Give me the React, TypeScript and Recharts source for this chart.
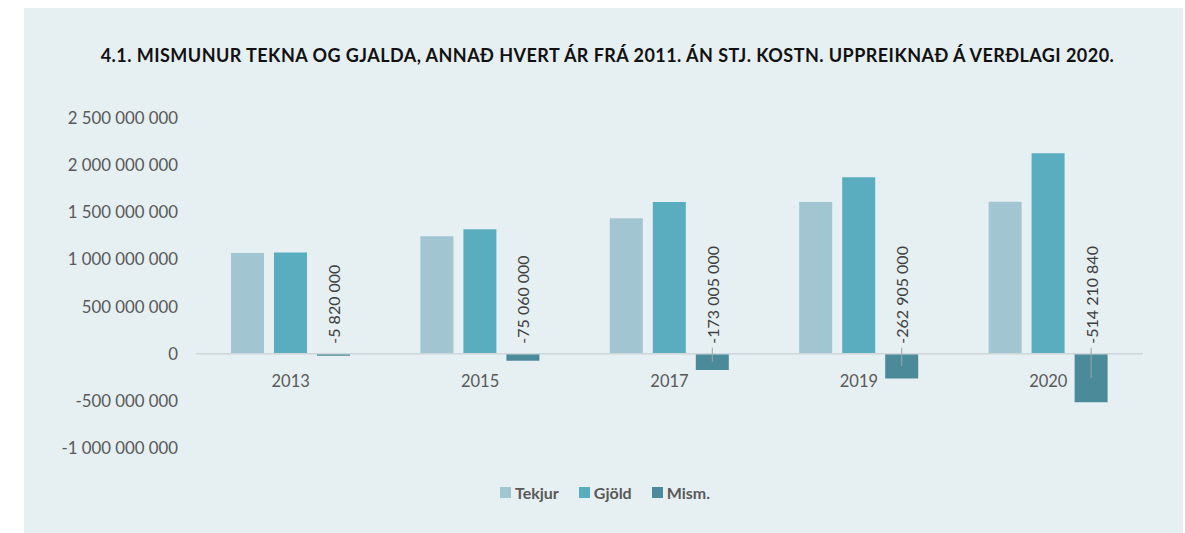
import React from 'react';
import {
  BarChart,
  Bar,
  XAxis,
  YAxis,
  Legend,
  ReferenceLine,
  LabelList,
} from 'recharts';

const YEARS = ['2013', '2015', '2017', '2019', '2020'];
const TEKJUR = [1068000000, 1246000000, 1436000000, 1610000000, 1612000000];
const GJOLD = [1073820000, 1321060000, 1609005000, 1872905000, 2126210840];
const MISM = [-5820000, -75060000, -173005000, -262905000, -514210840];
const Y_TICKS = [-1000000000, -500000000, 0, 500000000, 1000000000, 1500000000, 2000000000, 2500000000];

const SERIES = ['Tekjur', 'Gjöld', 'Mism.'];
const COLORS = ['#A2C6D1', '#5AACBF', '#4B8A98'];

const TITLE = '4.1. MISMUNUR TEKNA OG GJALDA, ANNAÐ HVERT ÁR FRÁ 2011. ÁN STJ. KOSTN. UPPREIKNAÐ Á VERÐLAGI 2020.';

const data = YEARS.map((year, i) => ({
  year,
  Tekjur: TEKJUR[i],
  'Gjöld': GJOLD[i],
  'Mism.': MISM[i],
}));

// space as thousands separator, like the source
const fmt = (v: number) => {
  const s = Math.abs(Math.round(v)).toString().replace(/\B(?=(\d{3})+(?!\d))/g, ' ');
  return (v < 0 ? '-' : '') + s;
};

const FONT = 'Lato, "Open Sans", sans-serif';

const YearTick = (props: any) => {
  const { x, y, payload } = props;
  return (
    <text x={x} y={y - 81} dy="0.71em" textAnchor="middle" fill="#595959" fontSize={16.5} fontFamily={FONT}>
      {payload.value}
    </text>
  );
};

const MismLabel = (props: any) => {
  const { x, y, width, height, value } = props;
  const top = Math.min(y, y + height);
  const bottom = Math.max(y, y + height);
  const cx = x + width / 2;
  const ly = top - 10;
  return (
    <g>
      {bottom - top > 8 && (
        <line x1={cx} y1={top - 6} x2={cx} y2={(top + bottom) / 2} stroke="#9aa5a8" strokeWidth={1} />
      )}
      <text
        x={cx}
        y={ly}
        transform={`rotate(-90, ${cx}, ${ly})`}
        textAnchor="start"
        dominantBaseline="central"
        fill="#404040"
        fontSize={16}
        fontFamily={FONT}
      >
        {fmt(value)}
      </text>
    </g>
  );
};

// legend in series order (Tekjur, Gjöld, Mism.)
const LegendContent = () => (
  <div style={{ display: 'flex', justifyContent: 'center', alignItems: 'center', fontFamily: FONT }}>
    {SERIES.map((name, i) => (
      <div
        key={name}
        style={{ display: 'flex', alignItems: 'center', marginRight: i < SERIES.length - 1 ? 20 : 0 }}
      >
        <div style={{ width: 11, height: 11, background: COLORS[i], marginRight: 4 }} />
        <span style={{ color: '#595959', fontWeight: 700, fontSize: 16 }}>{name}</span>
      </div>
    ))}
  </div>
);

export default function App() {
  return (
    <div style={{ position: 'absolute', left: 0, top: 0, width: 1185, height: 533, background: '#ffffff' }}>
      <div style={{ position: 'absolute', left: 24, top: 8, width: 1159, height: 525, background: '#E6EFF2' }} />
      <div
        style={{
          position: 'absolute',
          left: 0,
          top: 44,
          width: 1215,
          textAlign: 'center',
          fontFamily: FONT,
          fontWeight: 700,
          fontSize: 18,
          color: '#111',
          letterSpacing: 0.45,
          whiteSpace: 'nowrap',
        }}
      >
        {TITLE}
      </div>
      <div style={{ position: 'absolute', left: 0, top: 0 }}>
        <BarChart
          width={1185}
          height={533}
          data={data}
          margin={{ top: 118, right: 42, left: 0, bottom: 36 }}
          barSize={33}
          barGap={10}
        >
          <XAxis
            dataKey="year"
            axisLine={false}
            tickLine={false}
            height={30}
            tick={<YearTick />}
          />
          <YAxis
            width={196}
            domain={[-1000000000, 2500000000]}
            ticks={Y_TICKS}
            tickFormatter={fmt}
            axisLine={false}
            tickLine={false}
            tickMargin={12}
            interval={0}
            tick={{ fill: '#595959', fontSize: 16.8, fontFamily: FONT }}
          />
          <ReferenceLine y={0} stroke="#cdd6d9" strokeWidth={1.5} />
          <Legend content={<LegendContent />} wrapperStyle={{ top: 483, left: 0, width: 1210 }} />
          {SERIES.map((name, i) => (
            <Bar
              key={name}
              dataKey={name}
              fill={COLORS[i]}
              minPointSize={name === 'Mism.' ? 2 : 0}
              isAnimationActive={false}
            >
              {name === 'Mism.' && <LabelList dataKey={name} content={<MismLabel />} />}
            </Bar>
          ))}
        </BarChart>
      </div>
    </div>
  );
}
